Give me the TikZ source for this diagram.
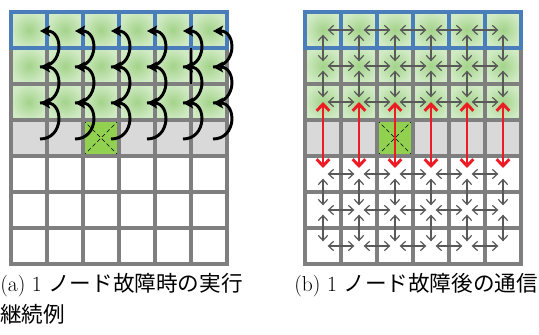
\documentclass[tikz,border=0pt]{standalone}
\usepackage{fontspec}
\newfontfamily\jpfont{Noto Sans CJK JP}
\usetikzlibrary{arrows.meta}

\definecolor{failgreen}{RGB}{146,208,80}
\definecolor{liveinner}{RGB}{163,211,138}
\definecolor{liveouter}{RGB}{208,234,196}
\definecolor{downgray}{RGB}{217,217,217}
\definecolor{gridgray}{RGB}{127,127,127}
\definecolor{rowblue}{RGB}{74,126,187}
\definecolor{linkgray}{RGB}{89,89,89}
\definecolor{linkred}{RGB}{237,28,36}

\tikzset{
  livecell/.style={shading=radial, inner color=liveinner, outer color=liveouter},
  gridline/.style={draw=gridgray, line width=2.3pt},
  blueline/.style={draw=rowblue, line width=2.3pt},
  turnarrow/.style={draw=black, line width=2.2pt, -{Stealth[length=7.5pt,width=8pt,inset=1.5pt]}},
  meshlink/.style={draw=linkgray, line width=0.9pt, {Straight Barb[length=3.8pt,width=7pt]}-{Straight Barb[length=3.8pt,width=7pt]}, shorten <=3.5pt, shorten >=3.5pt},
  redlink/.style={draw=linkred, line width=2.2pt, {Straight Barb[length=5pt,width=9.5pt]}-{Straight Barb[length=5pt,width=9.5pt]}, shorten >=4.5pt},
  caption/.style={inner sep=0pt, anchor=west, font=\fontsize{16.2}{21}\selectfont}
}

\begin{document}
\begin{tikzpicture}[x=0.75pt,y=0.75pt,yscale=-1]
\useasboundingbox (0,0) rectangle (539,335);

% cells of both meshes
\foreach \ox in {11,305}{
  \foreach \c in {0,...,5}{
    \foreach \r in {0,1,2}
      \fill[livecell] ({\ox+36*\c},{12+36*\r}) rectangle +(36,36);
    \fill[downgray] ({\ox+36*\c},120) rectangle +(36,36);
  }
  % failed node
  \fill[failgreen] ({\ox+72},120) rectangle +(36,36);
  \draw[densely dashed, line width=0.5pt] ({\ox+72},120) -- +(36,36) ({\ox+108},120) -- +(-36,36);
  % grid
  \foreach \c in {0,...,6}
    \draw[gridline] ({\ox+36*\c},12) -- ({\ox+36*\c},264);
  \foreach \r in {0,...,7}
    \draw[gridline, line cap=rect] (\ox,{12+36*\r}) -- ({\ox+216},{12+36*\r});
  % top row
  \draw[blueline, line cap=rect] (\ox,48) -- (\ox,12) -- ({\ox+216},12) -- ({\ox+216},48) -- cycle;
  \foreach \c in {1,...,5}
    \draw[blueline] ({\ox+36*\c},12) -- ({\ox+36*\c},48);
}
\draw[line width=2.2pt] (191,48) -- (191,84);

% hand-over arcs, left
\foreach \c/\x in {0/40,1/75,2/111,3/147,4/183,5/213}{
  \foreach \r in {0,...,3}
    \coordinate (k\c\r) at (\x,{31+36*\r});
  \foreach \r/\s in {3/2,2/1,1/0}
    \draw[turnarrow] (k\c\r) to[out=0,in=0,looseness=1.7] (k\c\s);
}

% cell centres, right
\foreach \c in {0,...,5}
  \foreach \r in {0,...,6}
    \coordinate (m\c\r) at ({323+36*\c},{30+36*\r});

% links inside each part
\foreach \r in {0,1,2,4,5,6}
  \foreach \c [count=\d] in {0,...,4}
    \draw[meshlink] (m\c\r) -- (m\d\r);
\foreach \c in {0,...,5}{
  \foreach \r/\s in {0/1,1/2,4/5,5/6}
    \draw[meshlink] (m\c\r) -- (m\c\s);
  \draw[redlink] (m\c2) -- (m\c4);
}

% captions
\node[caption] (capa) at (0,285) {(a) 1\hspace{0.3em}{\jpfont ノード故障時の実行}};
\node[caption] (capa2) at (0,314) {{\jpfont 継続例}};
\node[caption] (capb) at (294,285) {(b) 1\hspace{0.3em}{\jpfont ノード故障後の通信}};
\end{tikzpicture}
\end{document}
